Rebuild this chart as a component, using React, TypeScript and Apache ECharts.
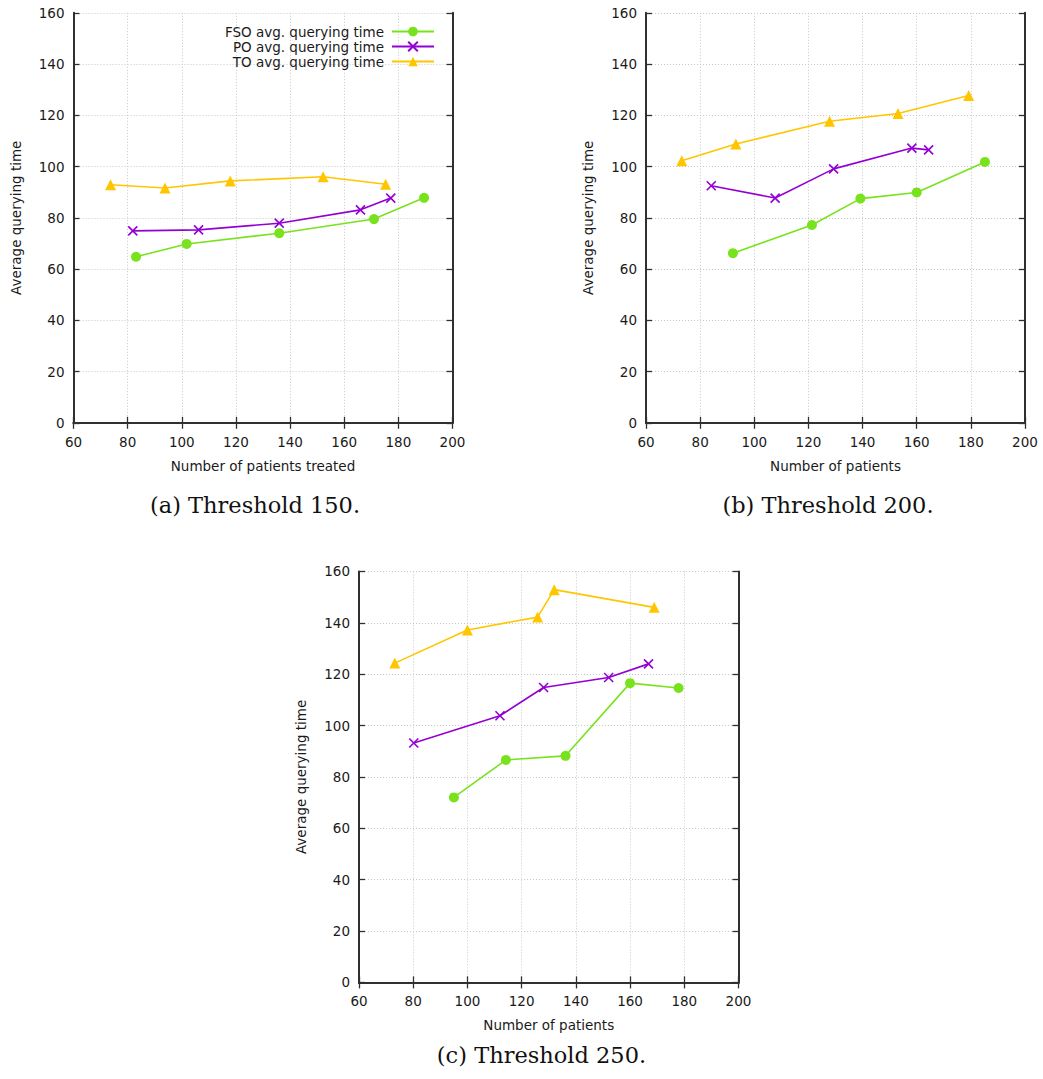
import React, { useEffect, useRef } from "react";
import * as echarts from "echarts";

const SERIES_NAMES = ["FSO avg. querying time", "PO avg. querying time", "TO avg. querying time"];
const COLORS = ["#78e31c", "#9400d3", "#ffc600"];

const X_MIN = 60;
const X_MAX = 200;
const X_STEP = 20;
const Y_MIN = 0;
const Y_MAX = 160;
const Y_STEP = 20;

// Panel (a) Threshold 150
const aFSO = [[83.1, 64.8], [101.8, 69.8], [136.0, 74.0], [171.0, 79.5], [189.5, 87.8]];
const aPO = [[81.9, 74.9], [106.2, 75.3], [136.0, 77.9], [166.0, 83.1], [177.2, 87.7]];
const aTO = [[73.7, 92.9], [93.8, 91.6], [117.9, 94.4], [152.2, 96.0], [175.3, 93.1]];

// Panel (b) Threshold 200
const bFSO = [[92.1, 66.2], [121.3, 77.2], [139.2, 87.5], [160.0, 89.9], [185.2, 101.8]];
const bPO = [[84.1, 92.5], [107.7, 87.7], [129.3, 99.1], [158.2, 107.2], [164.4, 106.5]];
const bTO = [[73.2, 102.3], [93.2, 108.8], [127.8, 117.7], [153.1, 120.7], [179.2, 127.7]];

// Panel (c) Threshold 250
const cFSO = [[95.0, 72.0], [114.2, 86.6], [136.2, 88.2], [160.0, 116.5], [177.9, 114.6]];
const cPO = [[80.2, 93.2], [112.0, 103.8], [128.1, 114.8], [152.1, 118.7], [166.8, 124.0]];
const cTO = [[73.2, 124.3], [100.0, 137.2], [125.9, 142.2], [132.0, 152.9], [168.9, 146.0]];

const X_NAMES = ["Number of patients treated", "Number of patients", "Number of patients"];
const Y_NAME = "Average querying time";
const CAPTIONS = ["(a) Threshold 150.", "(b) Threshold 200.", "(c) Threshold 250."];

const PANEL_DATA = [
  [aFSO, aPO, aTO],
  [bFSO, bPO, bTO],
  [cFSO, cPO, cTO],
];

const GRIDS = [
  { left: 73.5, top: 12.8, width: 379, height: 410 },
  { left: 646, top: 12.8, width: 379, height: 410 },
  { left: 359, top: 571.4, width: 379.5, height: 411 },
];

const CAPTION_POS = [
  [255, 505],
  [828, 505],
  [541.5, 1055],
];

const FONT = "DejaVu Sans";
const CROSS = "path://M0,0L10,10M10,0L0,10";

function buildOption() {
  const xAxis: any[] = [];
  const yAxis: any[] = [];
  const series: any[] = [];
  const axisLine = { show: true, lineStyle: { color: "#303030", width: 2 } };
  const axisTick = { show: true, inside: true, length: 6, lineStyle: { color: "#303030", width: 1.3 } };
  const splitLine = { show: true, lineStyle: { color: "#c8c8c8", type: [1, 2], width: 1 } };
  const labelStyle = { color: "#1a1a1a", fontFamily: FONT, fontSize: 13.5 };

  GRIDS.forEach((g, i) => {
    xAxis.push({
      type: "value", gridIndex: i, position: "bottom", min: X_MIN, max: X_MAX, interval: X_STEP,
      axisLine, axisTick, splitLine,
      axisLabel: { ...labelStyle, margin: 12 },
      name: X_NAMES[i], nameLocation: "middle", nameGap: 36,
      nameTextStyle: labelStyle,
    });
    yAxis.push({
      type: "value", gridIndex: i, position: "left", min: Y_MIN, max: Y_MAX, interval: Y_STEP,
      axisLine, axisTick, splitLine,
      axisLabel: { ...labelStyle, margin: 9 },
      name: Y_NAME, nameLocation: "middle", nameRotate: 90, nameGap: 51,
      nameTextStyle: labelStyle,
    });
    xAxis.push({
      type: "value", gridIndex: i, position: "top", min: X_MIN, max: X_MAX, interval: X_STEP,
      axisLine, axisTick, splitLine: { show: false }, axisLabel: { show: false },
    });
    yAxis.push({
      type: "value", gridIndex: i, position: "right", min: Y_MIN, max: Y_MAX, interval: Y_STEP,
      axisLine, axisTick, splitLine: { show: false }, axisLabel: { show: false },
    });

    const data = PANEL_DATA[i];
    const symbols = ["circle", CROSS, "triangle"];
    const sizes = [10, 9, 11];
    data.forEach((d, k) => {
      const isCross = k === 1;
      series.push({
        type: "line",
        name: SERIES_NAMES[k],
        xAxisIndex: i * 2,
        yAxisIndex: i * 2,
        data: d,
        symbol: symbols[k],
        symbolSize: sizes[k],
        showSymbol: true,
        lineStyle: { color: COLORS[k], width: 1.6 },
        itemStyle: isCross
          ? { color: COLORS[k], borderColor: COLORS[k], borderWidth: 1.6 }
          : { color: COLORS[k] },
        z: 3 + k,
      });
    });
  });

  const graphic = CAPTIONS.map((c, i) => ({
    type: "text",
    x: CAPTION_POS[i][0],
    y: CAPTION_POS[i][1],
    style: {
      text: c,
      font: '22.5px "DejaVu Serif"',
      fill: "#111",
      textAlign: "center",
      textVerticalAlign: "middle",
    },
  }));

  return {
    animation: false,
    backgroundColor: "#ffffff",
    grid: GRIDS.map((g) => ({ ...g, containLabel: false })),
    xAxis,
    yAxis,
    legend: {
      data: SERIES_NAMES,
      orient: "vertical",
      align: "right",
      right: 603,
      top: 19,
      itemWidth: 42,
      itemHeight: 12,
      itemGap: 0,
      selectedMode: false,
      textStyle: { color: "#1a1a1a", fontFamily: FONT, fontSize: 13.5, padding: [0, 3, 0, 0], lineHeight: 15 },
    },
    series,
    graphic,
  };
}

export default function App() {
  const ref = useRef<HTMLDivElement>(null);
  useEffect(() => {
    if (!ref.current) return;
    const chart = echarts.init(ref.current, undefined, { renderer: "svg" });
    chart.setOption(buildOption());
    return () => chart.dispose();
  }, []);
  return (
    <div
      ref={ref}
      style={{ position: "fixed", left: 0, top: 0, width: 1043, height: 1079, background: "#fff" }}
    />
  );
}
